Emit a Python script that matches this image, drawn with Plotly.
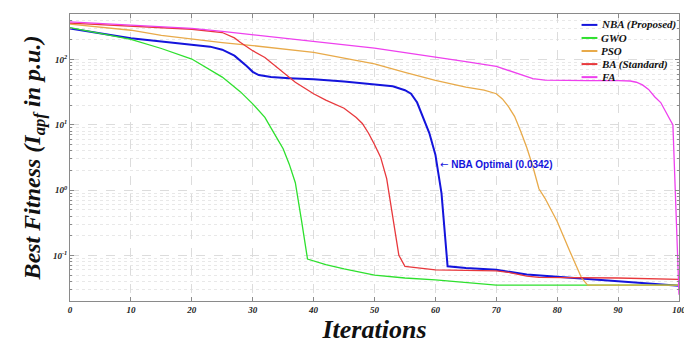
import numpy as np
import plotly.graph_objects as go

# ---- data ----
x_nba = [0, 5, 10, 15, 20, 23, 25, 27, 29, 30, 31, 33, 36, 40, 45, 50, 53, 55, 56, 57, 58, 59, 60, 61, 62, 65, 70, 75, 80, 85, 90, 95, 100]
y_nba = [300, 250, 212, 190, 172, 158, 142, 115, 80, 65, 58, 54, 52, 50, 46, 41, 39, 34, 30, 22, 13, 7.5, 3.5, 0.9, 0.068, 0.064, 0.06, 0.051, 0.047, 0.043, 0.040, 0.037, 0.0342]

x_gwo = [0, 5, 10, 15, 20, 25, 28, 30, 32, 34, 35, 36, 37, 38, 39, 42, 45, 50, 55, 60, 65, 68, 70, 80, 90, 100]
y_gwo = [310, 255, 205, 148, 102, 54, 32, 21, 13, 6.2, 4.3, 2.5, 1.3, 0.35, 0.088, 0.072, 0.062, 0.050, 0.045, 0.042, 0.038, 0.036, 0.035, 0.035, 0.035, 0.035]

x_pso = [0, 5, 10, 15, 20, 25, 30, 35, 40, 45, 50, 55, 60, 65, 68, 70, 71, 72, 73, 74, 75, 76, 77, 78, 80, 82, 84, 85, 90, 95, 100]
y_pso = [350, 315, 282, 235, 205, 182, 164, 146, 129, 105, 86, 64, 48, 38, 34, 30, 25, 19, 13.5, 8, 4.5, 2.3, 1.05, 0.75, 0.33, 0.12, 0.045, 0.035, 0.035, 0.035, 0.035]

x_ba = [0, 5, 10, 15, 20, 25, 27, 28, 30, 32, 35, 37, 40, 42, 45, 47, 48, 49, 50, 51, 52, 53, 54, 55, 60, 65, 70, 72, 75, 77, 80, 90, 100]
y_ba = [363, 345, 330, 310, 292, 260, 215, 183, 137, 108, 64, 45, 30, 24, 18, 13, 10.5, 7.5, 5, 3.2, 1.5, 0.38, 0.1, 0.068, 0.06, 0.059, 0.058, 0.055, 0.048, 0.046, 0.046, 0.045, 0.043]

x_fa = [0, 5, 10, 15, 20, 25, 30, 35, 40, 45, 50, 55, 60, 65, 70, 72, 74, 76, 78, 80, 85, 90, 92, 93, 94, 95, 96, 97, 98, 99, 100]
y_fa = [380, 360, 340, 320, 302, 270, 240, 215, 194, 170, 150, 128, 108, 93, 79, 68, 58, 51, 48.5, 48, 47.5, 47.5, 47, 45, 41, 35, 27, 22, 15, 10, 0.025]

names = ["NBA (Proposed)", "GWO", "PSO", "BA (Standard)", "FA"]
colors = ["#1414dc", "#2ee02e", "#e8aa4a", "#e8383c", "#ee40ee"]
widths = [2.0, 1.3, 1.3, 1.3, 1.3]

x_ticks = [0, 10, 20, 30, 40, 50, 60, 70, 80, 90, 100]
y_tickvals = [0.1, 1, 10, 100]
y_ticktext = ["10<sup>-1</sup>", "10<sup>0</sup>", "10<sup>1</sup>", "10<sup>2</sup>"]

annot_text = "NBA Optimal (0.0342)"
annot_x = 60.4
annot_y = 2.43

# ---- figure ----
serif = "Liberation Serif, Times New Roman, serif"
fig = go.Figure()
series = [(x_nba, y_nba), (x_gwo, y_gwo), (x_pso, y_pso), (x_ba, y_ba), (x_fa, y_fa)]
for (xs, ys), n, c, w in zip(series, names, colors, widths):
    fig.add_trace(go.Scatter(x=xs, y=ys, mode="lines", name=n,
                             line=dict(color=c, width=w), showlegend=False))

# compact legend (top right, inside axes)
leg_top = 0.962
leg_step = 0.0455
shapes = []
annotations = []
for i, (n, c, w) in enumerate(zip(names, colors, widths)):
    yy = leg_top - i * leg_step
    shapes.append(dict(type="line", xref="paper", yref="paper", x0=0.840, x1=0.866, y0=yy, y1=yy,
                       line=dict(color=c, width=2)))
    annotations.append(dict(x=0.869, y=yy, xref="paper", yref="paper", showarrow=False,
                            xanchor="left", yanchor="middle", text=f"<b><i>{n}</i></b>",
                            font=dict(family=serif, size=11, color="#111")))

annotations.append(dict(x=annot_x, y=np.log10(annot_y), xref="x", yref="y",
                        text=f"<span style='font-family:DejaVu Sans'>←</span> <b>{annot_text}</b>",
                        showarrow=False, xanchor="left", yanchor="middle",
                        font=dict(family="Liberation Sans, Arial, sans-serif", size=10, color="#1414dc")))

minor_vals = [m * 10.0 ** e for e in range(-2, 3) for m in range(2, 10)]

fig.update_layout(
    width=684, height=344,
    margin=dict(l=70, r=5, t=14, b=43),
    paper_bgcolor="white", plot_bgcolor="white",
    font=dict(family=serif, color="#222"),
    showlegend=False,
    xaxis=dict(
        range=[0, 100], tickvals=x_ticks,
        ticktext=[f"<b><i>{v}</i></b>" for v in x_ticks],
        tickfont=dict(family=serif, size=9, color="#222"),
        ticklabeloverflow="allow", automargin=False,
        showgrid=True, gridcolor="#dcdcdc", griddash="dash", gridwidth=1,
        showline=True, linecolor="#8a8a8a", linewidth=1, mirror="ticks",
        ticks="inside", ticklen=4, tickcolor="#8a8a8a",
        zeroline=False,
        title=dict(text="<b><i>Iterations</i></b>", font=dict(family=serif, size=26, color="#111"), standoff=3),
    ),
    yaxis=dict(
        type="log", range=[np.log10(0.02), np.log10(500)],
        tickvals=y_tickvals, ticktext=[f"<b><i>{t}</i></b>" for t in y_ticktext],
        tickfont=dict(family=serif, size=9, color="#222"), automargin=False,
        showgrid=True, gridcolor="#dcdcdc", griddash="dash", gridwidth=1,
        showline=True, linecolor="#8a8a8a", linewidth=1, mirror="ticks",
        ticks="inside", ticklen=4, tickcolor="#8a8a8a",
        minor=dict(tickvals=minor_vals, showgrid=True, gridcolor="#e8e8e8", griddash="dot",
                   ticks="inside", ticklen=2, tickcolor="#8a8a8a"),
        zeroline=False,
        title=dict(text="<b><i>Best Fitness (I<sub>apf</sub> in p.u.)</i></b>",
                   font=dict(family=serif, size=24, color="#111"), standoff=5),
    ),
    shapes=shapes,
    annotations=annotations,
)

fig.write_html("out.html")
